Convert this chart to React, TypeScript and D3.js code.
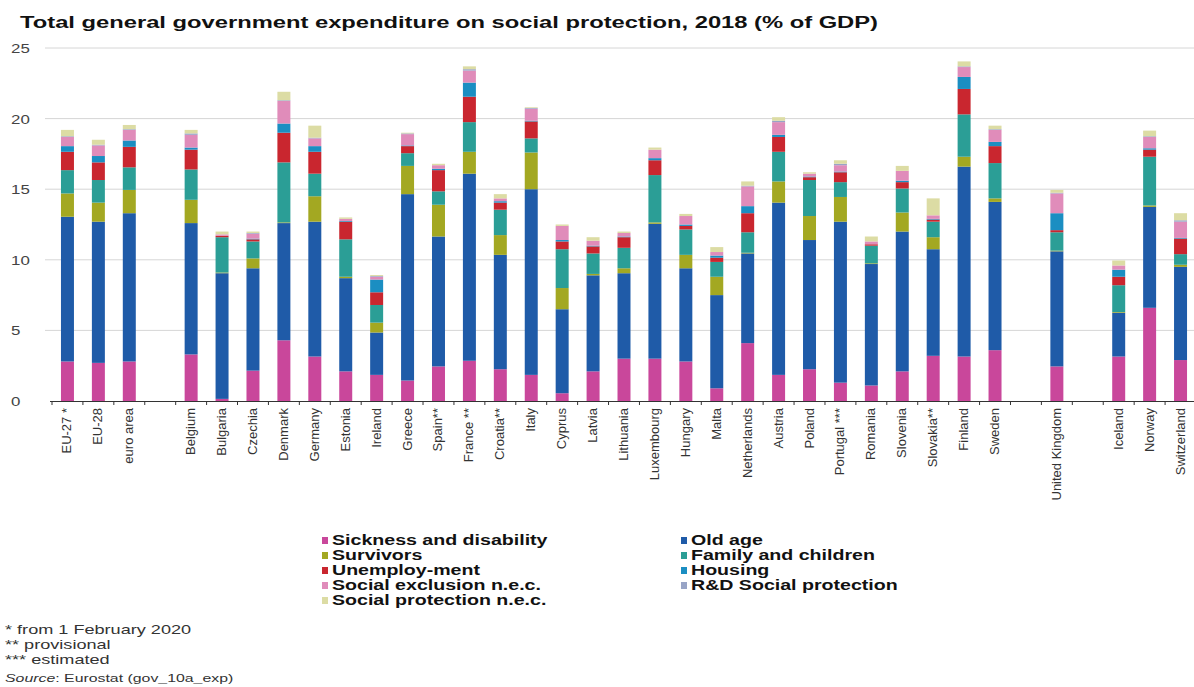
import React from "react";
import * as d3 from "d3";

const categories = ["EU-27 *","EU-28","euro area","","Belgium","Bulgaria","Czechia","Denmark","Germany","Estonia","Ireland","Greece","Spain**","France **","Croatia**","Italy","Cyprus","Latvia","Lithuania","Luxembourg","Hungary","Malta","Netherlands","Austria","Poland","Portugal ***","Romania","Slovenia","Slovakia**","Finland","Sweden"," ","United Kingdom","  ","Iceland","Norway","Switzerland"];

const seriesNames = ["Sickness and disability","Old age","Survivors","Family and children","Unemploy-ment","Housing","Social exclusion n.e.c.","R&D Social protection","Social protection n.e.c."];
const seriesColors = ["#c9479b","#1f5ba8","#a3a822","#2b9e96","#c9262f","#1b8ec2","#e08cba","#98a4c6","#dcdca4"];

const sickness =    [2.8,2.7,2.8,null,3.3,0.15,2.15,4.3,3.15,2.1,1.85,1.45,2.45,2.85,2.25,1.85,0.55,2.1,3.0,3.0,2.8,0.9,4.1,1.85,2.25,1.3,1.1,2.1,3.2,3.15,3.6,null,2.45,null,3.15,6.6,2.9];
const oldAge =      [10.25,10.0,10.5,null,9.3,8.9,7.25,8.3,9.55,6.6,3.0,13.2,9.2,13.25,8.1,13.15,5.95,6.8,6.05,9.55,6.6,6.6,6.35,12.2,9.15,11.4,8.6,9.9,7.55,13.45,10.5,null,8.15,null,3.1,7.15,6.6];
const survivors =   [1.65,1.35,1.65,null,1.65,0.05,0.7,0.05,1.8,0.1,0.7,2.0,2.25,1.55,1.4,2.6,1.5,0.1,0.35,0.1,0.95,1.3,0.05,1.5,1.7,1.75,0.05,1.35,0.85,0.7,0.25,null,0.05,null,0.05,0.1,0.15];
const family =      [1.65,1.6,1.6,null,2.15,2.5,1.2,4.25,1.6,2.65,1.25,0.9,0.95,2.1,1.8,1.0,2.75,1.45,1.45,3.35,1.8,1.05,1.45,2.1,2.55,1.05,1.25,1.7,1.1,3.0,2.5,null,1.3,null,1.9,3.45,0.75];
const unemployment =[1.3,1.25,1.45,null,1.4,0.1,0.15,2.1,1.55,1.25,0.9,0.5,1.5,1.8,0.5,1.2,0.55,0.5,0.75,1.05,0.25,0.3,1.35,1.05,0.2,0.7,0.1,0.45,0.15,1.8,1.2,null,0.15,null,0.6,0.5,1.1];
const housing =     [0.4,0.45,0.45,null,0.15,0.0,0.05,0.65,0.4,0.05,0.9,0.05,0.1,1.0,0.1,0.05,0.1,0.05,0.05,0.15,0.1,0.15,0.5,0.15,0.05,0.05,0.0,0.1,0.05,0.85,0.3,null,1.2,null,0.5,0.1,0.05];
const socExclusion =[0.65,0.75,0.75,null,0.9,0.1,0.35,1.6,0.55,0.15,0.2,0.8,0.25,0.85,0.2,0.85,1.0,0.35,0.25,0.6,0.6,0.25,1.4,0.9,0.2,0.45,0.2,0.7,0.25,0.7,0.85,null,1.4,null,0.3,0.8,1.15];
const rdSocial =    [0.05,0.05,0.05,null,0.1,0.0,0.05,0.05,0.05,0.0,0.05,0.05,0.0,0.1,0.0,0.05,0.0,0.0,0.0,0.0,0.0,0.0,0.05,0.1,0.0,0.1,0.0,0.0,0.0,0.05,0.05,null,0.05,null,0.0,0.05,0.1];
const socProtNec =  [0.45,0.35,0.3,null,0.25,0.2,0.1,0.6,0.85,0.1,0.07,0.05,0.1,0.2,0.3,0.05,0.1,0.25,0.1,0.15,0.15,0.35,0.3,0.25,0.1,0.25,0.35,0.35,1.2,0.35,0.25,null,0.2,null,0.35,0.4,0.5];

const seriesValues = [sickness, oldAge, survivors, family, unemployment, housing, socExclusion, rdSocial, socProtNec];
const yTicks = [0,5,10,15,20,25];
const footnotes = ["* from 1 February 2020","** provisional","*** estimated"];

const W = 1194, H = 687;
const FONT = "'Liberation Sans', Arial, sans-serif";

export default function App() {
  const x = d3.scaleBand<number>().domain(d3.range(categories.length)).range([52, 1196]).paddingInner(0.58).paddingOuter(0.29);
  const step = x.step();
  const gapHalf = (step - x.bandwidth()) / 2;
  const y = d3.scaleLinear().domain([0, 25]).range([401, 48]);

  const rows = categories.map((c, i) => {
    const o: any = { idx: i };
    seriesNames.forEach((s, k) => { o[s] = seriesValues[k][i] ?? 0; });
    return o;
  });
  const stacked = d3.stack<any>().keys(seriesNames)(rows);

  const legendCols = [[0, 2, 4, 6, 8], [1, 3, 5, 7]];
  const legendX = [322, 681];

  return (
    <svg width={W} height={H} style={{ position: "absolute", left: 0, top: 0, background: "#fff" }} fontFamily={FONT}>
      <text x={20} y={28} fontSize={16} fontWeight="bold" fill="#111" textLength={858} lengthAdjust="spacingAndGlyphs">Total general government expenditure on social protection, 2018 (% of GDP)</text>
      {yTicks.map(t => (
        <g key={t}>
          {t > 0 && <line x1={45} x2={1194} y1={y(t)} y2={y(t)} stroke="#d6d6d6" strokeWidth={1} />}
          <text transform={`translate(11,${y(t) + 5}) scale(1.3,1)`} fontSize={13} fill="#444">{t}</text>
        </g>
      ))}
      {stacked.map((layer, k) => (
        <g key={k} fill={seriesColors[k]}>
          {layer.map((d, i) => categories[i].trim() === "" ? null : (
            <rect key={i} x={x(i)} width={x.bandwidth()} y={y(d[1])} height={Math.max(0, y(d[0]) - y(d[1]))} />
          ))}
        </g>
      ))}
      <line x1={50} x2={1194} y1={401.5} y2={401.5} stroke="#333" strokeWidth={1} />
      {d3.range(categories.length + 1).map(i => {
        const bx = (i < categories.length ? x(i)! - gapHalf : x(categories.length - 1)! + x.bandwidth() + gapHalf);
        return <line key={i} x1={bx} x2={bx} y1={401} y2={405} stroke="#333" strokeWidth={1} />;
      })}
      {categories.map((c, i) => c.trim() === "" ? null : (
        <text key={i} transform={`translate(${x(i)! + x.bandwidth() / 2 + 4},408) rotate(-90)`} textAnchor="end" fontSize={13} fill="#333">{c}</text>
      ))}
      {legendCols.map((col, ci) => col.map((k, r) => (
        <g key={k} transform={`translate(${legendX[ci]},${541 + r * 15})`}>
          <rect x={0} y={-4} width={6} height={7} fill={seriesColors[k]} />
          <text transform="translate(10,4) scale(1.4,1)" fontSize={14} fontWeight="bold" fill="#111">{seriesNames[k]}</text>
        </g>
      )))}
      {footnotes.map((f, i) => (
        <text key={i} transform={`translate(5,${634 + i * 15}) scale(1.45,1)`} fontSize={12.5} fill="#333">{f}</text>
      ))}
      <text transform="translate(5,682) scale(1.38,1)" fontSize={11.5} fill="#333"><tspan fontStyle="italic">Source</tspan>: Eurostat (gov_10a_exp)</text>
    </svg>
  );
}
